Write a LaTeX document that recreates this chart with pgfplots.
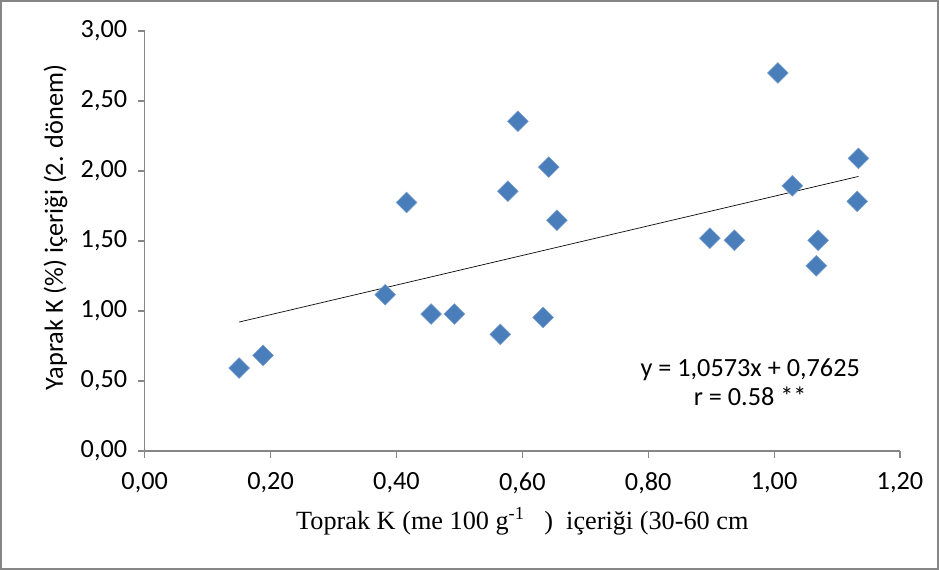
\documentclass[border=0pt]{standalone}
\usepackage{pgfplots}
\pgfplotsset{compat=1.18}
\usepackage{fontspec}
\setmainfont{Liberation Serif}
\newfontfamily\calibri{Carlito}
\definecolor{markblue}{HTML}{4A7EBB}
\definecolor{axisgray}{HTML}{868686}

\begin{document}
\begin{tikzpicture}[x=1pt,y=1pt]
\useasboundingbox (-107.5,-89) rectangle (590,335);
\begin{axis}[
    scale only axis,
    width=561pt, height=312pt,
    xmin=0, xmax=1.2, ymin=0, ymax=3,
    xtick={0,0.2,...,1.2},
    ytick={0,0.5,...,3},
    axis x line=bottom, axis y line=left,
    axis line style={-, axisgray, line width=0.8pt},
    tick style={axisgray, line width=0.8pt},
    tick align=outside,
    major tick length=5pt,
    xticklabel style={font=\calibri\fontsize{19.5}{22}\selectfont, yshift=-7.5pt},
    yticklabel style={font=\calibri\fontsize{19.5}{22}\selectfont, xshift=-4.5pt},
    /pgf/number format/.cd, fixed, fixed zerofill, precision=2, use comma, assume math mode=true,
    /pgfplots/.cd,
    xlabel={Toprak K (me 100 g\textsuperscript{-1}\ \ \ )\ \ içeriği (30-60 cm},
    xlabel style={font=\fontsize{19.5}{22}\selectfont, yshift=-3pt},
    ylabel={Yaprak K (\%) içeriği (2. dönem)},
    ylabel style={font=\calibri\fontsize{19.5}{22}\selectfont, yshift=3pt, xshift=10pt},
    clip=false,
]
\addplot[only marks, mark=square*, mark size=5.45pt,
    mark options={rotate=45, fill=markblue, draw=markblue!75!white, line width=0.4pt}]
coordinates {
(0.150,0.592) (0.188,0.683) (0.382,1.116) (0.416,1.775) (0.455,0.978)
(0.492,0.978) (0.565,0.833) (0.577,1.856) (0.593,2.355) (0.633,0.954)
(0.642,2.028) (0.655,1.648) (0.898,1.520) (0.937,1.505) (1.006,2.700)
(1.029,1.894) (1.070,1.505) (1.067,1.323) (1.134,2.090) (1.132,1.783)
};
\addplot[black, line width=0.5pt] coordinates {(0.150,0.921) (1.134,1.961)};
\node[font=\calibri\fontsize{19.5}{22}\selectfont, align=center] at (axis cs:0.962,0.49)
    {y = 1,0573x + 0,7625\\[0pt]r = 0.58 **};
\end{axis}
\draw[axisgray, line width=1.5pt] (-106.5,-88) rectangle (589,334);
\end{tikzpicture}
\end{document}
